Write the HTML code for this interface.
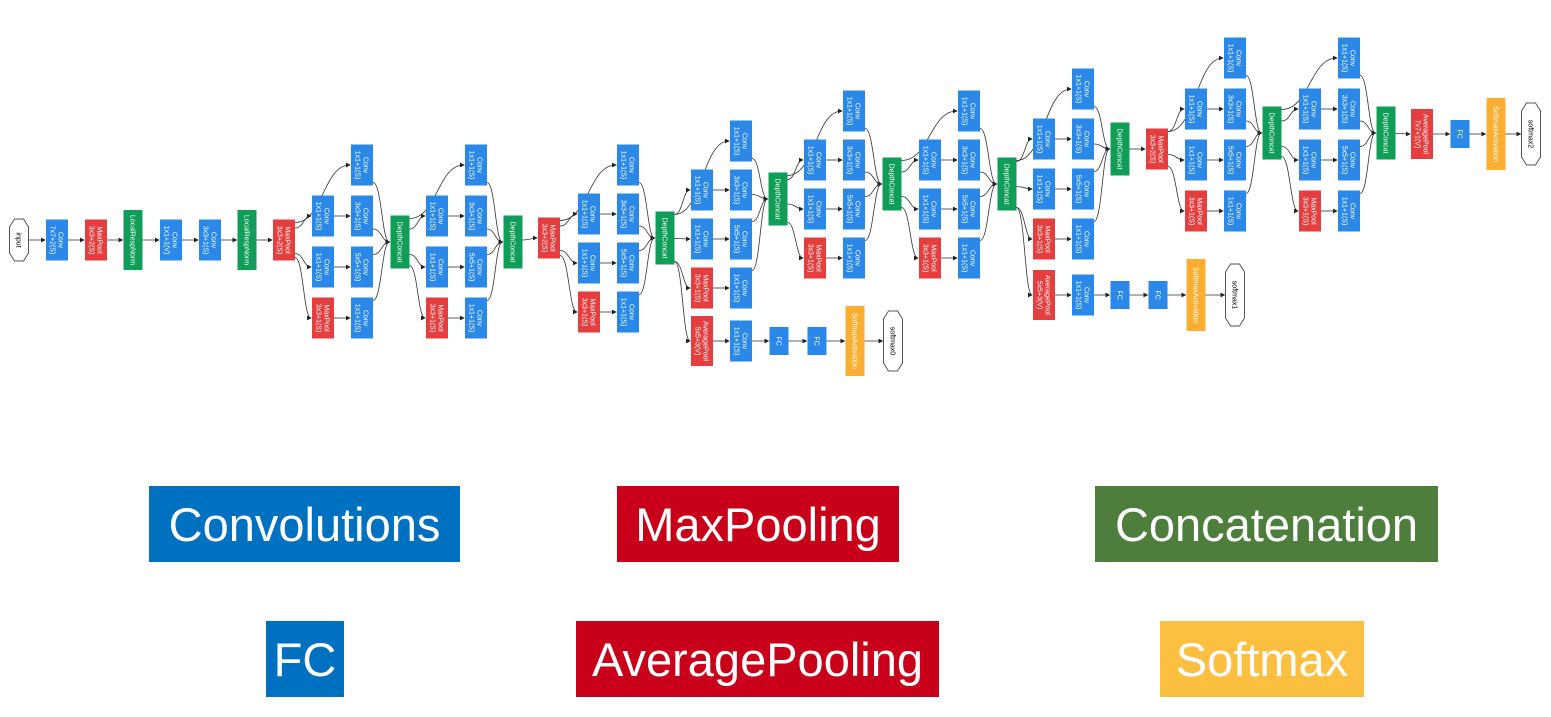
<!DOCTYPE html>
<html><head><meta charset="utf-8"><style>
body{margin:0;background:#fff;width:1551px;height:717px;overflow:hidden;font-family:"Liberation Sans",sans-serif}
svg{position:absolute;left:0;top:0}
.leg{position:absolute;color:#fff;font-size:47px;display:flex;align-items:center;justify-content:center;font-family:"Liberation Sans",sans-serif}
</style></head><body>
<svg id="g" width="1551" height="420"></svg>
<div class="leg" style="left:149px;top:486px;width:311px;height:76px;background:#0070C0">Convolutions</div>
<div class="leg" style="left:617px;top:486px;width:282px;height:76px;background:#C8001A">MaxPooling</div>
<div class="leg" style="left:1095px;top:486px;width:343px;height:76px;background:#4E7E3C">Concatenation</div>
<div class="leg" style="left:266px;top:621px;width:78px;height:76px;background:#0070C0">FC</div>
<div class="leg" style="left:576px;top:621px;width:363px;height:76px;background:#C8001A">AveragePooling</div>
<div class="leg" style="left:1160px;top:621px;width:204px;height:76px;background:#FDBF3F">Softmax</div>
<script>
// module column centers [A, B, concat], top row y, row spacing, concat y
const modX=[[323,362,400],[437,476,513],[589,628,665],[702,741,778],[815,854,892],[930,969,1007],[1044,1083,1120],[1196,1235,1272],[1310,1349,1386]];
const modTop=[165,165,165,141,111,111,89,58,58];
const modSp=[51,51,49,49,49,49,50,51,51];
const modC=[242,242,238,199,184,184,149,133,133];
const S='http://www.w3.org/2000/svg';
const svg=document.getElementById('g');
const col={conv:'#2A88E8',pool:'#E63E3E',cat:'#0F9D58',sm:'#FBAE30'};
const defs=document.createElementNS(S,'defs');
defs.innerHTML='<marker id="ar" markerWidth="6" markerHeight="6" refX="5" refY="3" orient="auto"><path d="M0,0L6,3L0,6z" fill="#222"/></marker>';
svg.appendChild(defs);
const eg=document.createElementNS(S,'g');svg.appendChild(eg);
const ng=document.createElementNS(S,'g');svg.appendChild(ng);
function node(type,lines,x,y,w,h,name){
  const g=document.createElementNS(S,'g');
  
  
  if(type==='hex'){
    const p=document.createElementNS(S,'polygon');
    p.setAttribute('points',`${x-w/2},${y-h/2+8} ${x-w/2+5},${y-h/2} ${x+w/2-5},${y-h/2} ${x+w/2},${y-h/2+8} ${x+w/2},${y+h/2-8} ${x+w/2-5},${y+h/2} ${x-w/2+5},${y+h/2} ${x-w/2},${y+h/2-8}`);
    p.setAttribute('fill','#fff');p.setAttribute('stroke','#555');g.appendChild(p);
  }else{
    const r=document.createElementNS(S,'rect');
    r.setAttribute('x',x-w/2);r.setAttribute('y',y-h/2);r.setAttribute('width',w);r.setAttribute('height',h);
    r.setAttribute('fill',col[type]);g.appendChild(r);
  }
  const t=document.createElementNS(S,'text');
  t.setAttribute('transform',`translate(${x},${y}) rotate(90)`);
  t.setAttribute('font-size','7');t.setAttribute('text-anchor','middle');
  t.setAttribute('fill',type==='hex'?'#000':'#fff');t.setAttribute('font-family','Liberation Sans, sans-serif');
  lines.forEach((l,i)=>{const s=document.createElementNS(S,'tspan');s.setAttribute('x',0);
    s.setAttribute('y',(i-(lines.length-1)/2)*8+2.4);s.textContent=l;t.appendChild(s);});
  g.appendChild(t);ng.appendChild(g);
  return {x,y,w,h};
}
function edge(a,b){
  const x1=a.x+a.w/2,x2=b.x-b.w/2;
  let y1=a.y+Math.max(-a.h/2+3,Math.min(a.h/2-3,(b.y-a.y)*0.5)),y2=b.y;
  const dx=x2-x1;
  const p=document.createElementNS(S,'path');
  p.setAttribute('d',`M${x1},${y1} C${x1+dx*0.5},${y1} ${x2-dx*0.5},${y2} ${x2-1},${y2}`);
  p.setAttribute('fill','none');p.setAttribute('stroke','#333');p.setAttribute('stroke-width','0.8');
  p.setAttribute('marker-end','url(#ar)');
  
  
  eg.appendChild(p);
}
const W=22,H=41;
function chain(list){for(let i=1;i<list.length;i++)edge(list[i-1],list[i]);}
function module(i,src){
  const [a,b,c]=modX[i],t=modTop[i],sp=modSp[i];
  const r=[t,t+sp,t+2*sp,t+3*sp];
  const n0=node('conv',['Conv','1x1+1(S)'],b,r[0],W,H,'conv-1x1');
  const a1=node('conv',['Conv','1x1+1(S)'],a,r[1],W,H,'conv-1x1-reduce');
  const b1=node('conv',['Conv','3x3+1(S)'],b,r[1],W,H,'conv-3x3');
  const a2=node('conv',['Conv','1x1+1(S)'],a,r[2],W,H,'conv-1x1-reduce');
  const b2=node('conv',['Conv','5x5+1(S)'],b,r[2],W,H,'conv-5x5');
  const a3=node('pool',['MaxPool','3x3+1(S)'],a,r[3],W,H,'maxpool-3x3');
  const b3=node('conv',['Conv','1x1+1(S)'],b,r[3],W,H,'conv-pool-proj');
  const cc=node('cat',['DepthConcat'],c,modC[i],19,53,'depth-concat');
  [n0,a1,a2,a3].forEach(n=>edge(src,n));
  edge(a1,b1);edge(a2,b2);edge(a3,b3);
  [n0,b1,b2,b3].forEach(n=>edge(n,cc));
  return cc;
}
const y0=240;
const pre=[
 node('hex',['input'],19,y0,19,42,'input-node'),
 node('conv',['Conv','7x7+2(S)'],57,y0,W,H,'conv-7x7'),
 node('pool',['MaxPool','3x3+2(S)'],96,y0,W,H,'maxpool-1'),
 node('cat',['LocalRespNorm'],133,y0,19,60,'local-resp-norm-1'),
 node('conv',['Conv','1x1+1(V)'],171,y0,W,H,'conv-1x1-v'),
 node('conv',['Conv','3x3+1(S)'],210,y0,W,H,'conv-3x3-s'),
 node('cat',['LocalRespNorm'],247,y0,19,60,'local-resp-norm-2'),
 node('pool',['MaxPool','3x3+2(S)'],284,y0,W,H,'maxpool-2')];
chain(pre);
let c1=module(0,pre[7]);
let c2=module(1,c1);
const mp3=node('pool',['MaxPool','3x3+2(S)'],549,238,W,H,'maxpool-3');edge(c2,mp3);
let c3=module(2,mp3);
let c4=module(3,c3);
let c5=module(4,c4);
let c6=module(5,c5);
let c7=module(6,c6);
const mp4=node('pool',['MaxPool','3x3+2(S)'],1157,149,W,H,'maxpool-4');edge(c7,mp4);
let c8=module(7,mp4);
let c9=module(8,c8);
const tail=[c9,
 node('pool',['AveragePool','7x7+1(V)'],1422,134,W,50,'avgpool-final'),
 node('conv',['FC'],1460,134,19,28,'fc-final'),
 node('sm',['SoftmaxActivation'],1496,134,19,72,'softmax-activation-2'),
 node('hex',['softmax2'],1531,134,19,62,'softmax2-output')];
chain(tail);
const aux0=[c3,
 node('pool',['AveragePool','5x5+3(V)'],702,341,W,50,'aux0-avgpool'),
 node('conv',['Conv','1x1+1(S)'],741,341,W,H,'aux0-conv'),
 node('conv',['FC'],779,341,19,28,'aux0-fc1'),
 node('conv',['FC'],817,341,19,28,'aux0-fc2'),
 node('sm',['SoftmaxActivation'],855,341,19,70,'softmax-activation-0'),
 node('hex',['softmax0'],893,341,19,60,'softmax0-output')];
chain(aux0);
const aux1=[c6,
 node('pool',['AveragePool','5x5+3(V)'],1044,295,W,50,'aux1-avgpool'),
 node('conv',['Conv','1x1+1(S)'],1083,295,W,H,'aux1-conv'),
 node('conv',['FC'],1120,295,19,28,'aux1-fc1'),
 node('conv',['FC'],1158,295,19,28,'aux1-fc2'),
 node('sm',['SoftmaxActivation'],1196,295,19,72,'softmax-activation-1'),
 node('hex',['softmax1'],1235,295,19,62,'softmax1-output')];
chain(aux1);
</script>
</body></html>
